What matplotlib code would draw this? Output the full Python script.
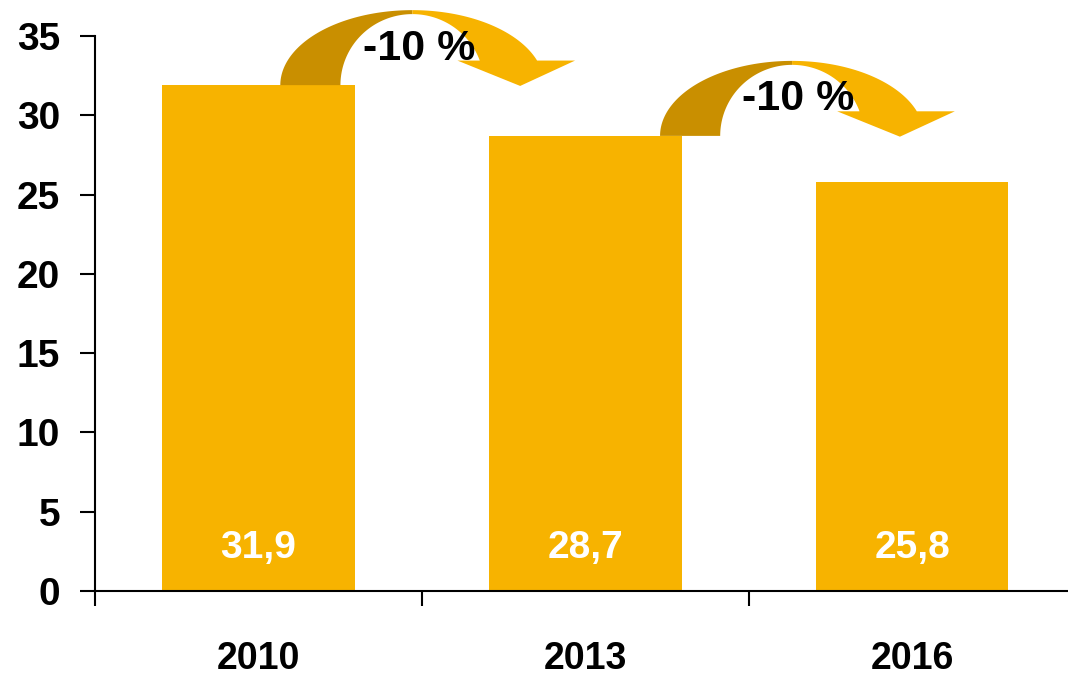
import matplotlib
matplotlib.use('Agg')
import matplotlib.pyplot as plt
from matplotlib.patches import Polygon
import numpy as np

# data
years = ['2010', '2013', '2016']
values = [31.9, 28.7, 25.8]
value_labels = ['31,9', '28,7', '25,8']
change_labels = ['-10 %', '-10 %']
arrow_centers = [0.471, 1.633]   # x position of each curved arrow (category units)
arrow_bases = [31.9, 28.7]       # arrows start on top of the earlier bar
yticks = [0, 5, 10, 15, 20, 25, 30, 35]

bar_color = '#F7B300'
dark_color = '#C98F00'

plt.rcParams['font.family'] = ['Liberation Sans', 'DejaVu Sans']
plt.rcParams['font.weight'] = 'bold'

fig = plt.figure(figsize=(10.68, 6.79), dpi=100)
ax = fig.add_axes([0.08895, 0.1296, 0.918, 0.8174])

x = np.arange(len(years))
ax.bar(x, values, width=0.59, color=bar_color, zorder=2)

for xi, lab in zip(x, value_labels):
    ax.text(xi, 2.7, lab, ha='center', va='center', color='white',
            fontsize=28, fontweight='bold', zorder=3)


def curved_arrow(cx, base):
    # geometry of the ribbon arrow, in data units
    rx_o, ry_o = 0.404, 4.73
    rx_i, ry_i = 0.220, 4.48
    h = 1.55  # height of arrow head base above the bar top
    t_o = np.arcsin(h / ry_o)
    t_i = np.arcsin(h / ry_i)

    # dark back part (left half)
    t = np.linspace(np.pi, np.pi / 2, 60)
    outer = np.column_stack([cx + rx_o * np.cos(t), base + ry_o * np.sin(t)])
    inner = np.column_stack([cx + rx_i * np.cos(t[::-1]), base + ry_i * np.sin(t[::-1])])
    dark = np.vstack([outer, inner])
    ax.add_patch(Polygon(dark, closed=True, color=dark_color, lw=0,
                         zorder=4, clip_on=False))

    # light front part with head
    t1 = np.linspace(np.pi / 2, t_o, 60)
    outer = np.column_stack([cx + rx_o * np.cos(t1), base + ry_o * np.sin(t1)])
    head = np.array([[cx + 0.498, base + h],
                     [cx + 0.330, base - 0.05],
                     [cx + 0.138, base + h]])
    t2 = np.linspace(t_i, np.pi / 2, 60)
    inner = np.column_stack([cx + rx_i * np.cos(t2), base + ry_i * np.sin(t2)])
    light = np.vstack([outer, head, inner])
    ax.add_patch(Polygon(light, closed=True, color=bar_color, lw=0,
                         zorder=5, clip_on=False))


for cx, base, lab in zip(arrow_centers, arrow_bases, change_labels):
    curved_arrow(cx, base)
    ax.text(cx + 0.02, base + 2.3, lab, ha='center', va='center',
            fontsize=31, fontweight='bold', color='black', zorder=6)

ax.set_xlim(-0.5, 2.5)
ax.set_ylim(0, 35)

ax.spines['top'].set_visible(False)
ax.spines['right'].set_visible(False)
ax.spines['left'].set_linewidth(1.5)
ax.spines['bottom'].set_linewidth(1.5)

ax.set_yticks(yticks)
ax.set_yticklabels([str(v) for v in yticks], fontsize=28, fontweight='bold')
ax.tick_params(axis='y', length=11, width=1.5, pad=14)

ax.set_xticks(x)
ax.set_xticklabels(years, fontsize=27, fontweight='bold')
ax.tick_params(axis='x', which='major', length=0, pad=36)
ax.set_xticks(np.arange(-0.5, 3.0, 1.0), minor=True)
ax.tick_params(axis='x', which='minor', length=11, width=1.5, direction='out')

fig.savefig('out.png', dpi=100)
